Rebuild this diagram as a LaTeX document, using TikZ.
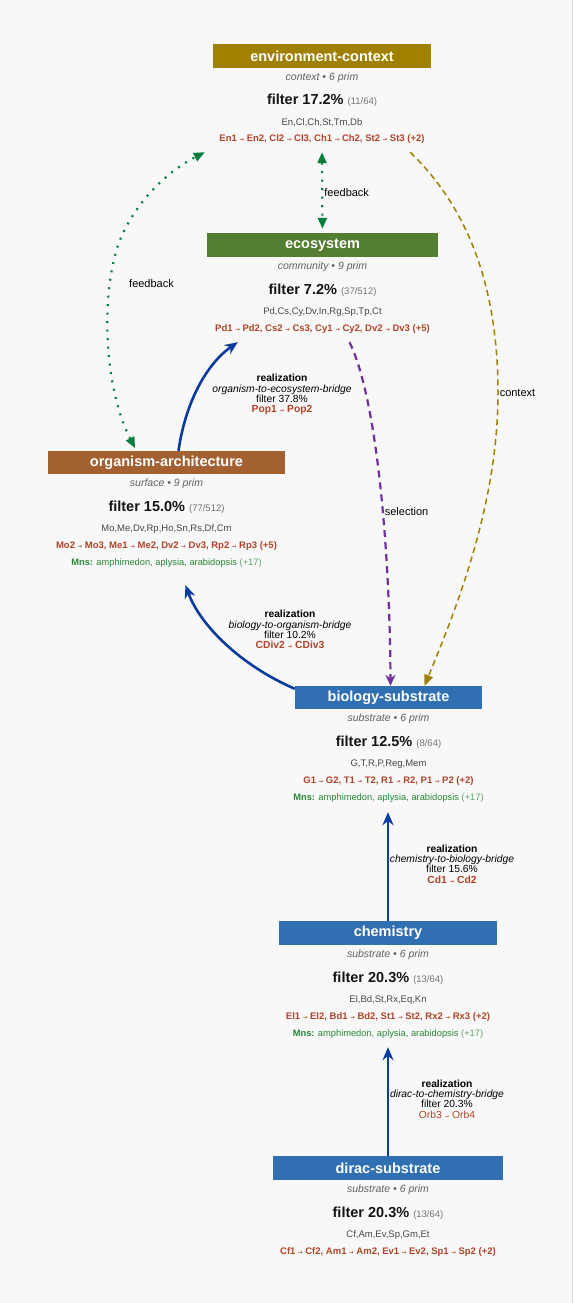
\documentclass[tikz,border=0pt]{standalone}
\usepackage{fontspec}
\setmainfont{Liberation Sans}
\newfontfamily\arrowfont{DejaVu Sans}
\usetikzlibrary{arrows.meta}

\newcommand{\fsz}[1]{\fontsize{#1}{#1}\selectfont}
\newcommand{\trto}{{\arrowfont\fontsize{5.5}{5.5}\selectfont →}}

\definecolor{envgold}{RGB}{160,128,0}
\definecolor{ecogreen}{RGB}{83,125,48}
\definecolor{orgbrown}{RGB}{163,96,48}
\definecolor{subblue}{RGB}{48,112,178}
\definecolor{trrust}{RGB}{176,68,40}
\definecolor{mnsgreen}{RGB}{40,135,55}
\definecolor{realblue}{RGB}{10,60,160}
\definecolor{selpurple}{RGB}{112,48,160}
\definecolor{fbgreen}{RGB}{10,125,60}
\definecolor{bgpaper}{RGB}{248,248,248}

\begin{document}
\begin{tikzpicture}[x=1pt, y=-1pt,
  hdbox/.style={inner sep=0pt, text=white, font=\fsz{14.5}\bfseries},
  blk/.style={inner sep=0pt, anchor=north},
  kindtxt/.style={anchor=base, inner sep=0pt, font=\fsz{10.5}\itshape, text=black!62},
  filtxt/.style={anchor=base, inner sep=0pt, font=\fsz{14.5}\bfseries, text=black!92},
  primtxt/.style={anchor=base, inner sep=0pt, font=\fsz{9.5}, text=black!72},
  trtxt/.style={anchor=base, inner sep=0pt, font=\fsz{9.5}\bfseries, text=trrust},
  mnstxt/.style={anchor=base, inner sep=0pt, font=\fsz{9.3}, text=mnsgreen},
  rlbl/.style={align=center, inner sep=0pt, font=\fsz{10.3}},
  elbl/.style={inner sep=1pt, font=\fsz{11}, text=black},
  realarrow/.style={realblue, line width=2.6pt, -{Stealth[length=13pt, width=11pt]}},
  selarrow/.style={selpurple, line width=2.2pt, dash pattern=on 7pt off 5pt, -{Stealth[length=11pt, width=10pt]}},
  ctxarrow/.style={envgold, line width=1.5pt, dash pattern=on 6pt off 4pt, -{Triangle[length=11pt, width=9pt]}},
  fbarrow/.style={fbgreen, line width=2.2pt, dash pattern=on 2pt off 6.5pt,
    {Triangle[length=11pt, width=9pt]}-{Triangle[length=11pt, width=9pt]}},
]

  % --- BACKGROUND ---
  \useasboundingbox (0,0) rectangle (575,1303);
  \fill[white] (0,0) rectangle (575,1303);
  \fill[bgpaper] (0,0) rectangle (572,1303);
  \draw[black!15, line width=0.8pt] (572,0) -- (572,1303);

  % --- ENVIRONMENT-CONTEXT ---
  \node[hdbox, fill=envgold, minimum width=218pt, minimum height=24pt] (envhd) at (322,56) {environment-context};
  \node[kindtxt] (envkind) at ([yshift=-24.5pt]envhd.center) {context • 6 prim};
  \node[filtxt] (envfil) at ([yshift=-49pt]envhd.center) {filter 17.2\% {\fsz{9.5}\mdseries\color{black!55}(11/64)}};
  \node[primtxt] (envprim) at ([yshift=-69pt]envhd.center) {En,Cl,Ch,St,Tm,Db};
  \node[trtxt] (envtr) at ([yshift=-86pt]envhd.center) {En1 \trto{} En2, Cl2 \trto{} Cl3, Ch1 \trto{} Ch2, St2 \trto{} St3 (+2)};
  \node[blk, minimum width=218pt, minimum height=108pt] (envblk) at (envhd.north) {};

  % --- ECOSYSTEM ---
  \node[hdbox, fill=ecogreen, minimum width=231pt, minimum height=24pt] (ecohd) at (322.5,245) {ecosystem};
  \node[kindtxt] (ecokind) at ([yshift=-24.5pt]ecohd.center) {community • 9 prim};
  \node[filtxt] (ecofil) at ([yshift=-49pt]ecohd.center) {filter 7.2\% {\fsz{9.5}\mdseries\color{black!55}(37/512)}};
  \node[primtxt] (ecoprim) at ([yshift=-69pt]ecohd.center) {Pd,Cs,Cy,Dv,In,Rg,Sp,Tp,Ct};
  \node[trtxt] (ecotr) at ([yshift=-86pt]ecohd.center) {Pd1 \trto{} Pd2, Cs2 \trto{} Cs3, Cy1 \trto{} Cy2, Dv2 \trto{} Dv3 (+5)};
  \node[blk, minimum width=231pt, minimum height=109pt] (ecoblk) at (ecohd.north) {};

  % --- ORGANISM-ARCHITECTURE ---
  \node[hdbox, fill=orgbrown, minimum width=237pt, minimum height=23pt] (orghd) at (166.5,462.5) {organism-architecture};
  \node[kindtxt] (orgkind) at ([yshift=-24pt]orghd.center) {surface • 9 prim};
  \node[filtxt] (orgfil) at ([yshift=-49pt]orghd.center) {filter 15.0\% {\fsz{9.5}\mdseries\color{black!55}(77/512)}};
  \node[primtxt] (orgprim) at ([yshift=-69pt]orghd.center) {Mo,Me,Dv,Rp,Ho,Sn,Rs,Df,Cm};
  \node[trtxt] (orgtr) at ([yshift=-86pt]orghd.center) {Mo2 \trto{} Mo3, Me1 \trto{} Me2, Dv2 \trto{} Dv3, Rp2 \trto{} Rp3 (+5)};
  \node[mnstxt] (orgmns) at ([yshift=-103pt]orghd.center) {\textbf{Mns:} amphimedon, aplysia, arabidopsis {\color{mnsgreen!75}(+17)}};
  \node[blk, minimum width=237pt, minimum height=134pt] (orgblk) at (orghd.north) {};

  % --- BIOLOGY-SUBSTRATE ---
  \node[hdbox, fill=subblue, minimum width=187pt, minimum height=23pt] (biohd) at (388.5,697.5) {biology-substrate};
  \node[kindtxt] (biokind) at ([yshift=-24pt]biohd.center) {substrate • 6 prim};
  \node[filtxt] (biofil) at ([yshift=-49pt]biohd.center) {filter 12.5\% {\fsz{9.5}\mdseries\color{black!55}(8/64)}};
  \node[primtxt] (bioprim) at ([yshift=-69pt]biohd.center) {G,T,R,P,Reg,Mem};
  \node[trtxt] (biotr) at ([yshift=-86pt]biohd.center) {G1 \trto{} G2, T1 \trto{} T2, R1 \trto{} R2, P1 \trto{} P2 (+2)};
  \node[mnstxt] (biomns) at ([yshift=-103pt]biohd.center) {\textbf{Mns:} amphimedon, aplysia, arabidopsis {\color{mnsgreen!75}(+17)}};
  \node[blk, minimum width=187pt, minimum height=126pt] (bioblk) at (biohd.north) {};

  % --- CHEMISTRY ---
  \node[hdbox, fill=subblue, minimum width=218pt, minimum height=24pt] (chemhd) at (388,933) {chemistry};
  \node[kindtxt] (chemkind) at ([yshift=-24pt]chemhd.center) {substrate • 6 prim};
  \node[filtxt] (chemfil) at ([yshift=-49pt]chemhd.center) {filter 20.3\% {\fsz{9.5}\mdseries\color{black!55}(13/64)}};
  \node[primtxt] (chemprim) at ([yshift=-69pt]chemhd.center) {El,Bd,St,Rx,Eq,Kn};
  \node[trtxt] (chemtr) at ([yshift=-86pt]chemhd.center) {El1 \trto{} El2, Bd1 \trto{} Bd2, St1 \trto{} St2, Rx2 \trto{} Rx3 (+2)};
  \node[mnstxt] (chemmns) at ([yshift=-103pt]chemhd.center) {\textbf{Mns:} amphimedon, aplysia, arabidopsis {\color{mnsgreen!75}(+17)}};
  \node[blk, minimum width=218pt, minimum height=126pt] (chemblk) at (chemhd.north) {};

  % --- DIRAC-SUBSTRATE ---
  \node[hdbox, fill=subblue, minimum width=230pt, minimum height=24pt] (dirachd) at (388,1168) {dirac-substrate};
  \node[kindtxt] (dirackind) at ([yshift=-24pt]dirachd.center) {substrate • 6 prim};
  \node[filtxt] (diracfil) at ([yshift=-49pt]dirachd.center) {filter 20.3\% {\fsz{9.5}\mdseries\color{black!55}(13/64)}};
  \node[primtxt] (diracprim) at ([yshift=-69pt]dirachd.center) {Cf,Am,Ev,Sp,Gm,Et};
  \node[trtxt] (diractr) at ([yshift=-86pt]dirachd.center) {Cf1 \trto{} Cf2, Am1 \trto{} Am2, Ev1 \trto{} Ev2, Sp1 \trto{} Sp2 (+2)};

  % --- REALIZATION EDGES ---
  \draw[realarrow] (dirachd.north) -- (chemblk.south);
  \draw[realarrow] (chemhd.north) -- (chemhd.north |- bioblk.south);
  \draw[realarrow] ([yshift=-3pt]biohd.north west) .. controls (240,665) and (200,625) .. ([xshift=19pt]orgblk.south);
  \draw[realarrow] ([xshift=12pt]orghd.north) .. controls (185,405) and (205,365) .. ([xshift=31pt]ecoblk.south west);

  \node[rlbl] (dcbridge) at (447,1099) {\textbf{realization}\\\textit{dirac-to-chemistry-bridge}\\filter 20.3\%\\{\color{trrust}Orb3 \trto{} Orb4}};
  \node[rlbl] (cbbridge) at (452,864) {\textbf{realization}\\\textit{chemistry-to-biology-bridge}\\filter 15.6\%\\{\color{trrust}\bfseries Cd1 \trto{} Cd2}};
  \node[rlbl] (bobridge) at (290,629.5) {\textbf{realization}\\\textit{biology-to-organism-bridge}\\filter 10.2\%\\{\color{trrust}\bfseries CDiv2 \trto{} CDiv3}};
  \node[rlbl] (oebridge) at (282,394.5) {\textbf{realization}\\\textit{organism-to-ecosystem-bridge}\\filter 37.8\%\\{\color{trrust}\bfseries Pop1 \trto{} Pop2}};

  % --- SELECTION / CONTEXT ---
  \draw[selarrow] ([xshift=27pt]ecoblk.south) .. controls (378,400) and (390,560) .. ([xshift=2pt]biohd.north)
    node[elbl, pos=0.56, anchor=west] (sellbl) {selection};
  \draw[ctxarrow] ([xshift=-21pt]envblk.south east) .. controls (470,210) and (498,290) .. (498,393)
    node[elbl, anchor=west] (ctxlbl) {context}
    .. controls (498,500) and (460,600) .. ([xshift=36pt]biohd.north);

  % --- FEEDBACK ---
  \draw[fbarrow, shorten >=4pt] (envblk.south) -- (ecohd.north)
    node[elbl, midway, anchor=west] (fbmidlbl) {feedback};
  \draw[fbarrow, shorten <=3pt] ([xshift=-30pt]orghd.north) .. controls (105,390) and (100,300) .. (118,245)
    .. controls (135,200) and (170,170) .. ([xshift=-8pt]envblk.south west);
  \node[elbl, anchor=west] (fbleftlbl) at (128,284) {feedback};

\end{tikzpicture}
\end{document}
